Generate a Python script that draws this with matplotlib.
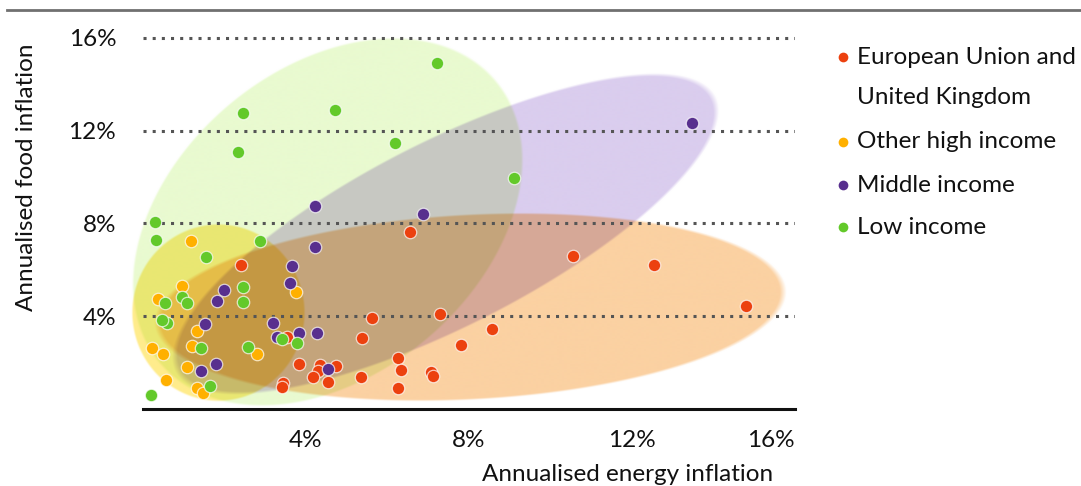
import matplotlib
matplotlib.use("Agg")
import numpy as np
import matplotlib.pyplot as plt
from matplotlib.lines import Line2D

plt.rcParams['font.family'] = ['Lato', 'DejaVu Sans']

# ---------------- data (annualised %) ----------------
eu_x = [2.40, 6.55, 5.61, 7.29, 8.57, 5.37, 7.80, 6.27, 6.33, 7.08, 7.11, 5.34, 6.25,
        3.84, 4.34, 4.74, 4.30, 4.18, 4.53, 3.44, 3.42, 3.53, 10.55, 12.54, 14.80]
eu_y = [6.20, 7.64, 3.93, 4.07, 3.44, 3.06, 2.74, 2.18, 1.67, 1.60, 1.41, 1.38, 0.88,
        1.93, 1.89, 1.86, 1.64, 1.36, 1.17, 1.12, 0.92, 3.08, 6.58, 6.20, 4.43]

oh_x = [1.17, 0.97, 0.38, 3.75, 1.32, 1.20, 0.21, 0.50, 2.81, 1.07, 0.56, 1.32, 1.47]
oh_y = [7.24, 5.30, 4.73, 5.02, 3.35, 2.72, 2.61, 2.35, 2.35, 1.79, 1.24, 0.88, 0.66]

mi_x = [4.22, 6.88, 4.22, 3.65, 3.61, 1.99, 1.81, 1.52, 3.18, 3.28, 3.84, 4.26, 1.79, 1.42, 4.53, 13.47]
mi_y = [8.75, 8.39, 6.99, 6.16, 5.41, 5.12, 4.65, 3.64, 3.71, 3.11, 3.28, 3.25, 1.93, 1.62, 1.70, 12.33]

li_x = [7.21, 2.45, 4.71, 2.33, 6.18, 9.10, 0.29, 0.32, 2.87, 1.55, 2.45, 2.45, 0.96, 1.08,
        0.54, 0.59, 0.47, 1.42, 2.58, 1.64, 0.20, 3.41, 3.78]
li_y = [14.92, 12.76, 12.89, 11.08, 11.47, 9.96, 8.06, 7.28, 7.24, 6.55, 5.25, 4.61, 4.82, 4.56,
        4.56, 3.70, 3.82, 2.62, 2.66, 0.98, 0.59, 3.01, 2.84]

series_names = ["European Union and\nUnited Kingdom", "Other high income", "Middle income", "Low income"]
ticks = [4, 8, 12, 16]
tick_labels = ["4%", "8%", "12%", "16%"]

# ---------------- styling ----------------
col_eu, col_oh, col_mi, col_li = "#ec410f", "#ffb000", "#582f8e", "#63c92a"
txt_col = "#111111"
fs = 17.5

fig = plt.figure(figsize=(10.81, 4.86), dpi=100)
W, H = 1081.0, 486.0
ax = fig.add_axes([128.7 / W, 1 - 408.7 / H, (795 - 128.7) / W, (408.7 - 26.4) / H])
xlim, ylim = (-0.35, 16), (0, 16.5)
ax.set_xlim(*xlim)
ax.set_ylim(*ylim)

# group envelopes: centre (data units), semi-axes (px), angle (deg on screen), multiply tint (RGB)
envelopes = [
    (4.52, 8.06, 219, 153, 40.0, (233, 250, 208)),   # low income
    (7.41, 7.54, 300, 92, 27.0, (218, 205, 238)),    # middle income
    (8.02, 4.39, 313, 92, 3.0, (251, 209, 162)),     # EU & UK
    (1.84, 4.15, 86, 88, 0.0, (255, 236, 140)),      # other high income
]

ss = 3
bb = ax.get_window_extent()
nx, ny = int(bb.width * ss), int(bb.height * ss)
gx = np.linspace(xlim[0], xlim[1], nx)
gy = np.linspace(ylim[0], ylim[1], ny)
GX, GY = np.meshgrid(gx, gy)
disp = ax.transData.transform(np.column_stack([GX.ravel(), GY.ravel()]))
DX = disp[:, 0].reshape(GX.shape)
DY = disp[:, 1].reshape(GX.shape)
img = np.ones((ny, nx, 3))
for cx, cy, a, b, ang, tint in envelopes:
    px, py = ax.transData.transform((cx, cy))
    t = np.deg2rad(ang)
    dx, dy = DX - px, DY - py
    u = dx * np.cos(t) + dy * np.sin(t)
    v = -dx * np.sin(t) + dy * np.cos(t)
    r = np.sqrt((u / a) ** 2 + (v / b) ** 2)
    w = np.clip((1.0 - r) * min(a, b) / 2.0 + 0.5, 0, 1)[..., None]
    f = np.array(tint) / 255.0
    img *= (1 - w) + w * f
ax.imshow(img, extent=(xlim[0], xlim[1], ylim[0], ylim[1]), origin="lower",
          aspect="auto", zorder=1, interpolation="antialiased")
ax.set_xlim(*xlim)
ax.set_ylim(*ylim)

# dotted gridlines
ax.hlines(ticks, 0, 16, colors="#555555", linestyles=(0, (1, 2)), lw=2.2, zorder=2)

mk = dict(s=80, edgecolors=(1, 1, 1, 0.7), linewidths=0.9, zorder=3)
ax.scatter(eu_x, eu_y, c=col_eu, **mk)
ax.scatter(oh_x, oh_y, c=col_oh, **mk)
ax.scatter(mi_x, mi_y, c=col_mi, **mk)
ax.scatter(li_x, li_y, c=col_li, **mk)

for s in ["top", "right", "left"]:
    ax.spines[s].set_visible(False)
ax.spines["bottom"].set_bounds(0, 16)
ax.spines["bottom"].set_linewidth(2.2)
ax.spines["bottom"].set_color("#111111")
ax.spines["bottom"].set_zorder(4)
ax.patch.set_visible(False)

ax.set_xticks(ticks)
ax.set_xticklabels(tick_labels)
ax.set_yticks(ticks)
ax.set_yticklabels(tick_labels)
ax.tick_params(axis="both", length=0, labelsize=fs, colors=txt_col)
ax.tick_params(axis="x", pad=15)
ax.tick_params(axis="y", pad=9)
ax.get_xticklabels()[-1].set_horizontalalignment("right")

fig.text(628 / W, 1 - 474 / H, "Annualised energy inflation", ha="center", va="center",
         fontsize=fs, color=txt_col)
fig.text(27 / W, 1 - 177 / H, "Annualised food inflation", ha="center", va="center",
         rotation=90, fontsize=fs, color=txt_col)

# top rule
fig.add_artist(Line2D([7 / W, 1.0], [1 - 10 / H, 1 - 10 / H], color="#707070", lw=2))

# legend
leg_cols = [col_eu, col_oh, col_mi, col_li]
leg_y = [57, 142, 185, 227]
for name, c, yy in zip(series_names, leg_cols, leg_y):
    fig.add_artist(Line2D([843 / W], [1 - yy / H], marker="o", markersize=7,
                          markerfacecolor=c, markeredgecolor="none", linestyle="none"))
    lines = name.split("\n")
    fig.text(857 / W, 1 - yy / H, lines[0], ha="left", va="center", fontsize=fs, color=txt_col)
    if len(lines) > 1:
        fig.text(857 / W, 1 - 98 / H, lines[1], ha="left", va="center", fontsize=fs, color=txt_col)

fig.savefig("out.png", dpi=100)
